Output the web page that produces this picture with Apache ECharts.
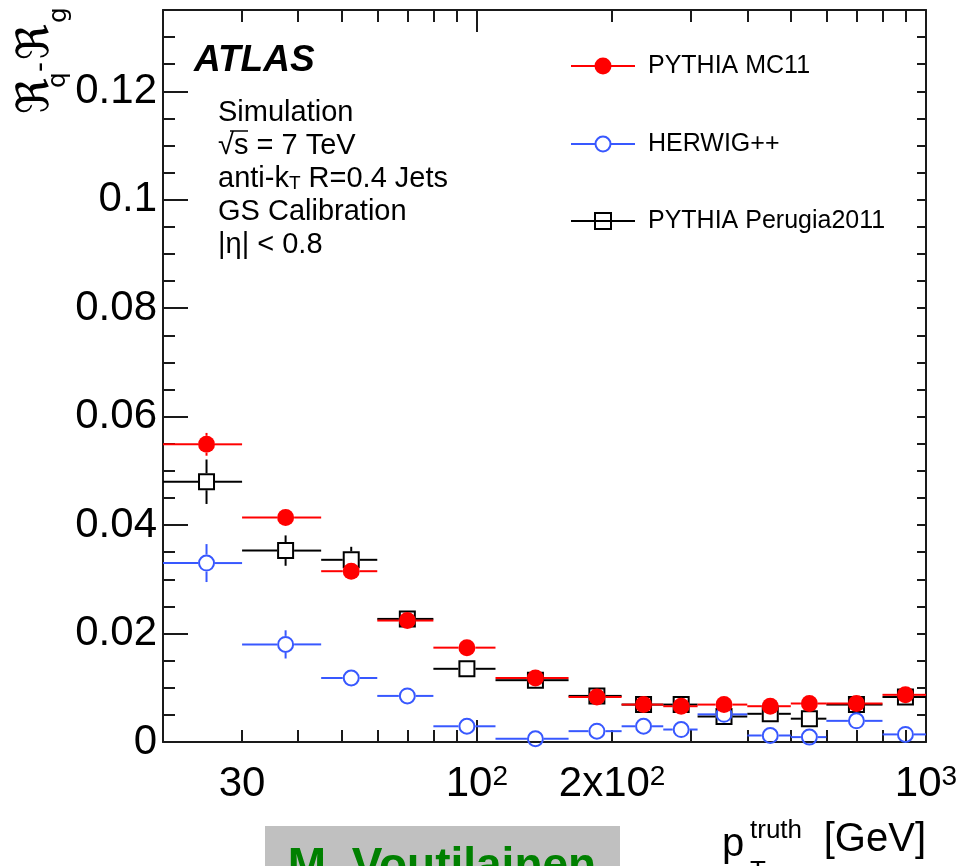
<!DOCTYPE html>
<html>
<head>
<meta charset="utf-8">
<script src="https://cdn.jsdelivr.net/npm/echarts@6/dist/echarts.min.js"></script>
<style>
  html, body { margin: 0; padding: 0; background: #fff; }
  #chart { width: 971px; height: 866px; }
</style>
</head>
<body>
<div id="chart"></div>
<script>
// pT(truth) binning [GeV] and the point positions inside each bin
const binEdges   = [20, 30, 45, 60, 80, 110, 160, 210, 260, 310, 400, 500, 600, 800, 1000];
const binCenters = [25, 37.5, 52.5, 70, 95, 135, 185, 235, 285, 355, 450, 550, 700, 900];

// R_q - R_g per bin, with statistical uncertainties
const pythiaMC11      = [0.0549, 0.0414, 0.0315, 0.0224, 0.0174, 0.0118, 0.0083, 0.0069, 0.0066, 0.0069, 0.0066, 0.0071, 0.0071, 0.0087];
const pythiaMC11Err   = [0.0021, 0.0010, 0.0008, 0.0006, 0.0005, 0.0005, 0.0004, 0.0004, 0.0004, 0.0004, 0.0004, 0.0004, 0.0004, 0.0004];
const herwigPP        = [0.0330, 0.0180, 0.0118, 0.0085, 0.0029, 0.0006, 0.0020, 0.0029, 0.0023, 0.0051, 0.0012, 0.0009, 0.0039, 0.0014];
const herwigPPErr     = [0.0035, 0.0026, 0.0013, 0.0009, 0.0006, 0.0005, 0.0005, 0.0005, 0.0005, 0.0005, 0.0005, 0.0005, 0.0005, 0.0005];
const perugia2011     = [0.0480, 0.0353, 0.0336, 0.0227, 0.0135, 0.0114, 0.0085, 0.0069, 0.0069, 0.0047, 0.0052, 0.0043, 0.0069, 0.0083];
const perugia2011Err  = [0.0041, 0.0028, 0.0024, 0.0011, 0.0008, 0.0006, 0.0005, 0.0005, 0.0005, 0.0005, 0.0005, 0.0005, 0.0005, 0.0005];

// axis ticks and labels
const xLabelValues = [30, 100, 200, 1000];
const xMajorTicks  = [100, 1000];
const xMinorTicks  = [30, 40, 50, 60, 70, 80, 90, 200, 300, 400, 500, 600, 700, 800, 900];
const yMajorTicks  = [0, 0.02, 0.04, 0.06, 0.08, 0.1, 0.12];
const yMinorTicks  = [0.005, 0.01, 0.015, 0.025, 0.03, 0.035, 0.045, 0.05, 0.055, 0.065, 0.07, 0.075,
                      0.085, 0.09, 0.095, 0.105, 0.11, 0.115, 0.125, 0.13];
const yAllTicks    = [0, 0.005, 0.01, 0.015, 0.02, 0.025, 0.03, 0.035, 0.04, 0.045, 0.05, 0.055, 0.06, 0.065,
                      0.07, 0.075, 0.08, 0.085, 0.09, 0.095, 0.1, 0.105, 0.11, 0.115, 0.12, 0.125, 0.13];

const FONT = '"Liberation Sans", Arial, Helvetica, sans-serif';
const FRAME = '#1a1a1a';
const RED = '#ff0000', BLUE = '#3858ff', BLACK = '#000000';

function toPoints(values, errors) {
  return binCenters.map((c, i) => [c, values[i], binEdges[i], binEdges[i + 1], errors[i]]);
}

// histogram-style point: horizontal bar over the bin, vertical error, marker
function pointWithErrors(marker, color, size) {
  const r = size / 2;
  return function (params, api) {
    const c   = api.coord([api.value(0), api.value(1)]);
    const lo  = api.coord([api.value(2), api.value(1)]);
    const hi  = api.coord([api.value(3), api.value(1)]);
    const top = api.coord([api.value(0), api.value(1) + api.value(4)]);
    const bot = api.coord([api.value(0), api.value(1) - api.value(4)]);
    const ls = { stroke: color, lineWidth: 2 };
    const kids = [
      { type: 'line', shape: { x1: lo[0], y1: c[1], x2: c[0] - r, y2: c[1] }, style: ls },
      { type: 'line', shape: { x1: c[0] + r, y1: c[1], x2: hi[0], y2: c[1] }, style: ls }
    ];
    if (top[1] < c[1] - r) kids.push({ type: 'line', shape: { x1: c[0], y1: top[1], x2: c[0], y2: c[1] - r }, style: ls });
    if (bot[1] > c[1] + r) kids.push({ type: 'line', shape: { x1: c[0], y1: c[1] + r, x2: c[0], y2: bot[1] }, style: ls });
    if (marker === 'dot') {
      kids.push({ type: 'circle', shape: { cx: c[0], cy: c[1], r: r }, style: { fill: color } });
    } else if (marker === 'ring') {
      kids.push({ type: 'circle', shape: { cx: c[0], cy: c[1], r: r - 1 }, style: { fill: 'none', stroke: color, lineWidth: 2 } });
    } else {
      kids.push({ type: 'rect', shape: { x: c[0] - r + 1, y: c[1] - r + 1, width: size - 2, height: size - 2 },
                  style: { fill: 'none', stroke: color, lineWidth: 2 } });
    }
    return { type: 'group', children: kids };
  };
}

function legendEntry(y, marker, color, label) {
  const kids = [{ type: 'line', shape: { x1: 571, y1: y, x2: 635, y2: y }, style: { stroke: color, lineWidth: 2 } }];
  if (marker === 'dot') kids.push({ type: 'circle', shape: { cx: 603, cy: y, r: 8.5 }, style: { fill: color } });
  if (marker === 'ring') kids.push({ type: 'circle', shape: { cx: 603, cy: y, r: 7.5 }, style: { fill: '#fff', stroke: color, lineWidth: 2 } });
  if (marker === 'square') kids.push({ type: 'rect', shape: { x: 595, y: y - 8, width: 16, height: 16 }, style: { fill: 'none', stroke: color, lineWidth: 2 } });
  kids.push({ type: 'text', style: { x: 648, y: y, text: label, font: '25px ' + FONT, fill: '#000', verticalAlign: 'middle' } });
  return { type: 'group', children: kids };
}

// one rotated glyph of the vertical axis title, centred on (x, y)
function titleGlyph(x, y, text, size, family) {
  return {
    type: 'text', x: x, y: y, rotation: Math.PI / 2,
    style: { text: text, font: size + 'px ' + family, fill: '#000', align: 'center', verticalAlign: 'middle' }
  };
}

const chart = echarts.init(document.getElementById('chart'), null, { renderer: 'canvas' });

const xBase = { type: 'log', logBase: 10, min: 20, max: 1000, splitLine: { show: false }, gridIndex: 0 };
const yBase = { type: 'value', min: 0, max: 0.135, splitLine: { show: false }, gridIndex: 0 };
const tickStyle = { color: FRAME, width: 2 };

const xSup = {
  n: { fontSize: 42, lineHeight: 42, fontFamily: FONT, color: '#000' },
  s: { fontSize: 28, lineHeight: 16, verticalAlign: 'top', fontFamily: FONT, color: '#000' }
};

chart.setOption({
  animation: false,
  backgroundColor: '#fff',
  grid: { left: 163, right: 45, top: 10, bottom: 124, containLabel: false, outerBoundsMode: 'none' },
  xAxis: [
    Object.assign({}, xBase, {
      position: 'bottom',
      axisLine: { show: true, onZero: false, lineStyle: { color: FRAME, width: 2 } },
      axisTick: { show: true, inside: true, length: 12, lineStyle: tickStyle, customValues: xMinorTicks },
      axisLabel: {
        show: true, margin: 21, customValues: xLabelValues, rich: xSup,
        fontSize: 42, fontFamily: FONT, color: '#000',
        formatter: function (v) {
          const n = Math.round(v);
          if (n === 100) return '{n|10}{s|2}';
          if (n === 200) return '{n|2x10}{s|2}';
          if (n === 1000) return '{n|10}{s|3}';
          return '{n|' + n + '}';
        }
      }
    }),
    Object.assign({}, xBase, {
      position: 'bottom',
      axisLine: { show: false, onZero: false },
      axisTick: { show: true, inside: true, length: 22, lineStyle: tickStyle, customValues: xMajorTicks },
      axisLabel: { show: false }
    }),
    Object.assign({}, xBase, {
      position: 'top',
      axisLine: { show: true, onZero: false, lineStyle: { color: FRAME, width: 2 } },
      axisTick: { show: true, inside: true, length: 12, lineStyle: tickStyle, customValues: xMinorTicks },
      axisLabel: { show: false }
    }),
    Object.assign({}, xBase, {
      position: 'top',
      axisLine: { show: false, onZero: false },
      axisTick: { show: true, inside: true, length: 22, lineStyle: tickStyle, customValues: xMajorTicks },
      axisLabel: { show: false }
    })
  ],
  yAxis: [
    Object.assign({}, yBase, {
      position: 'left',
      axisLine: { show: true, onZero: false, lineStyle: { color: FRAME, width: 2 } },
      axisTick: { show: true, inside: true, length: 25, lineStyle: tickStyle, customValues: yMajorTicks },
      axisLabel: {
        show: true, margin: 6, customValues: yMajorTicks,
        fontSize: 42, fontFamily: FONT, color: '#000',
        formatter: function (v) { return String(v); }
      }
    }),
    Object.assign({}, yBase, {
      position: 'left',
      axisLine: { show: false, onZero: false },
      axisTick: { show: true, inside: true, length: 12, lineStyle: tickStyle, customValues: yMinorTicks },
      axisLabel: { show: false }
    }),
    Object.assign({}, yBase, {
      position: 'right',
      axisLine: { show: true, onZero: false, lineStyle: { color: FRAME, width: 2 } },
      axisTick: { show: true, inside: true, length: 9, lineStyle: tickStyle, customValues: yAllTicks },
      axisLabel: { show: false }
    })
  ],
  series: [
    {
      name: 'PYTHIA Perugia2011', type: 'custom', xAxisIndex: 0, yAxisIndex: 0, clip: false,
      renderItem: pointWithErrors('square', BLACK, 17),
      encode: { x: [0, 2, 3], y: [1] },
      data: toPoints(perugia2011, perugia2011Err), z: 2
    },
    {
      name: 'HERWIG++', type: 'custom', xAxisIndex: 0, yAxisIndex: 0, clip: false,
      renderItem: pointWithErrors('ring', BLUE, 17),
      encode: { x: [0, 2, 3], y: [1] },
      data: toPoints(herwigPP, herwigPPErr), z: 3
    },
    {
      name: 'PYTHIA MC11', type: 'custom', xAxisIndex: 0, yAxisIndex: 0, clip: false,
      renderItem: pointWithErrors('dot', RED, 17),
      encode: { x: [0, 2, 3], y: [1] },
      data: toPoints(pythiaMC11, pythiaMC11Err), z: 4
    }
  ],
  graphic: [
    // y-axis title: R_q - R_g (blackletter R), read bottom to top
    titleGlyph(37, 96, 'ℜ', 44, '"DejaVu Sans"'),
    titleGlyph(58, 80, 'q', 25, '"DejaVu Sans"'),
    titleGlyph(41, 67, '-', 30, FONT),
    titleGlyph(37, 42, 'ℜ', 44, '"DejaVu Sans"'),
    titleGlyph(59, 15, 'g', 25, '"DejaVu Sans"'),
    // x-axis title: p_T^truth [GeV]
    { type: 'text', style: { x: 722, y: 845, text: 'p', font: '40px ' + FONT, fill: '#000', verticalAlign: 'middle' } },
    { type: 'text', style: { x: 750, y: 831, text: 'truth', font: '26px ' + FONT, fill: '#000', verticalAlign: 'middle' } },
    { type: 'text', style: { x: 750, y: 872, text: 'T', font: '26px ' + FONT, fill: '#000', verticalAlign: 'middle' } },
    { type: 'text', style: { x: 926, y: 840, text: '[GeV]', font: '40px ' + FONT, fill: '#000', align: 'right', verticalAlign: 'middle' } },
    // labels on the plot
    { type: 'text', style: { x: 194, y: 61, text: 'ATLAS', font: 'italic bold 37px ' + FONT, fill: '#000', verticalAlign: 'middle' } },
    { type: 'text', style: { x: 218, y: 113, text: 'Simulation', font: '29px ' + FONT, fill: '#000', verticalAlign: 'middle' } },
    { type: 'text', style: { x: 218, y: 146, text: '√s = 7 TeV', font: '29px ' + FONT, fill: '#000', verticalAlign: 'middle' } },
    { type: 'line', shape: { x1: 230, y1: 131, x2: 248, y2: 131 }, style: { stroke: '#000', lineWidth: 1.5 } },
    {
      type: 'text',
      style: {
        x: 218, y: 179, text: 'anti-k{t|T} R=0.4 Jets', font: '29px ' + FONT, fill: '#000', verticalAlign: 'middle',
        rich: { t: { fontFamily: FONT, fontSize: 19, lineHeight: 2, verticalAlign: 'bottom' } }
      }
    },
    { type: 'text', style: { x: 218, y: 212, text: 'GS Calibration', font: '29px ' + FONT, fill: '#000', verticalAlign: 'middle' } },
    { type: 'text', style: { x: 218, y: 245, text: '|η| < 0.8', font: '29px ' + FONT, fill: '#000', verticalAlign: 'middle' } },
    // legend
    legendEntry(66, 'dot', RED, 'PYTHIA MC11'),
    legendEntry(144, 'ring', BLUE, 'HERWIG++'),
    legendEntry(221, 'square', BLACK, 'PYTHIA Perugia2011'),
    // author tag
    { type: 'rect', shape: { x: 265, y: 826, width: 355, height: 60 }, style: { fill: '#c0c0c0' } },
    { type: 'text', style: { x: 442, y: 867, text: 'M. Voutilainen', font: 'bold 46px ' + FONT, fill: '#008000', align: 'center', verticalAlign: 'middle' } }
  ]
});
</script>
</body>
</html>
